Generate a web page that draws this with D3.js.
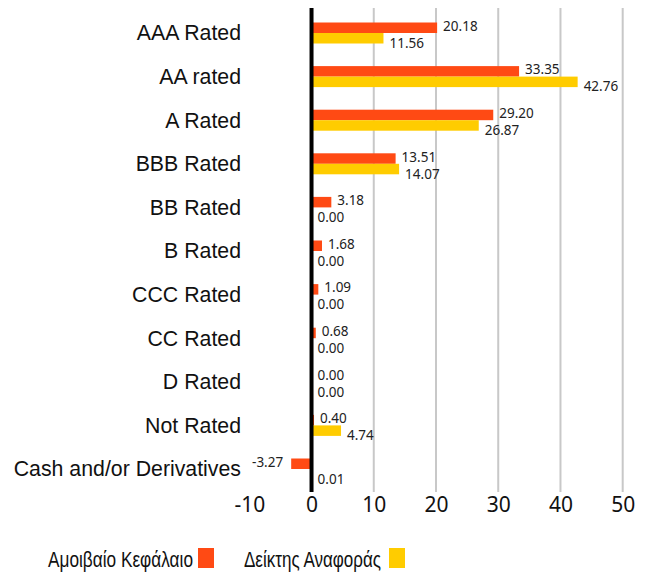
<!DOCTYPE html>
<html><head><meta charset="utf-8">
<script src="https://cdn.jsdelivr.net/npm/d3@7"></script>
<style>body{margin:0;background:#fff}svg{display:block}</style>
</head><body><svg id="c" width="651" height="574"></svg>
<script>
const categories = ["AAA Rated","AA rated","A Rated","BBB Rated","BB Rated","B Rated","CCC Rated","CC Rated","D Rated","Not Rated","Cash and/or Derivatives"];
const fundValues = [20.18,33.35,29.20,13.51,3.18,1.68,1.09,0.68,0.00,0.40,-3.27];
const benchValues = [11.56,42.76,26.87,14.07,0.00,0.00,0.00,0.00,0.00,4.74,0.01];
const xTicks = [-10,0,10,20,30,40,50];
const seriesNames = ["Αμοιβαίο Κεφάλαιο","Δείκτης Αναφοράς"];
const colors = ["#FF4A14","#FFCC00"];

const svg = d3.select("#c");
const x = d3.scaleLinear().domain([-10,50]).range([249.3,622.7]);
const y = d3.scaleBand().domain(categories).range([11.2,490.8]);
const barH = 10.5;
const fmt = v => d3.format(".2f")(v).replace("\u2212","-");

// grid
svg.append("g").selectAll("line").data(xTicks.filter(d=>d>0)).join("line")
  .attr("x1",d=>x(d)).attr("x2",d=>x(d)).attr("y1",8).attr("y2",492)
  .attr("stroke","#c8c8c8").attr("stroke-width",2);

const rows = svg.append("g").selectAll("g").data(categories).join("g")
  .attr("transform",d=>`translate(0,${y(d)+y.bandwidth()/2})`);

rows.append("rect")
  .attr("x",(d,i)=>x(Math.min(0,fundValues[i])))
  .attr("width",(d,i)=>Math.abs(x(fundValues[i])-x(0)))
  .attr("y",-barH).attr("height",barH).attr("fill",colors[0]);
rows.append("rect")
  .attr("x",(d,i)=>x(Math.min(0,benchValues[i])))
  .attr("width",(d,i)=>Math.abs(x(benchValues[i])-x(0)))
  .attr("y",0).attr("height",barH).attr("fill",colors[1]);

const lblFont = "'Noto Sans', sans-serif";
rows.append("text")
  .attr("x",(d,i)=>fundValues[i]<0 ? x(fundValues[i])-8 : x(fundValues[i])+6)
  .attr("text-anchor",(d,i)=>fundValues[i]<0?"end":"start")
  .attr("y",-7).attr("dy","0.35em")
  .style("font-family",lblFont).style("font-size","13.5px").attr("fill","#222")
  .text((d,i)=>fmt(fundValues[i]));
rows.append("text")
  .attr("x",(d,i)=>Math.max(x(benchValues[i]),x(0))+6)
  .attr("y",10).attr("dy","0.35em")
  .style("font-family",lblFont).style("font-size","13.5px").attr("fill","#222")
  .text((d,i)=>fmt(benchValues[i]));

// category labels
svg.append("g").selectAll("text").data(categories).join("text")
  .attr("x",241).attr("y",d=>y(d)+y.bandwidth()/2).attr("dy","0.35em")
  .attr("text-anchor","end")
  .style("font-family","'Liberation Sans', Arial, sans-serif").style("font-size","21.3px").attr("fill","#111")
  .text(d=>d);

// zero line
svg.append("line").attr("x1",x(0)).attr("x2",x(0)).attr("y1",8).attr("y2",492)
  .attr("stroke","#000").attr("stroke-width",4);

// x axis
const ax = svg.append("g").attr("transform","translate(0,492)")
  .call(d3.axisBottom(x).tickValues(xTicks).tickSize(0).tickPadding(5).tickFormat(d=>String(d)));
ax.select(".domain").remove();
ax.selectAll("text").style("font-family",lblFont).style("font-size","21px").attr("fill","#111");

// legend
const leg = [{t:seriesNames[0],tx:48,w:145,sx:198,c:colors[0]},{t:seriesNames[1],tx:244,w:137,sx:389,c:colors[1]}];
const lg = svg.append("g").selectAll("g").data(leg).join("g");
lg.append("text").attr("x",d=>d.tx).attr("y",567)
  .attr("textLength",d=>d.w).attr("lengthAdjust","spacingAndGlyphs")
  .style("font-family","'Liberation Sans', Arial, sans-serif").style("font-size","22px").attr("fill","#111")
  .text(d=>d.t);
lg.append("rect").attr("x",d=>d.sx).attr("y",548).attr("width",16).attr("height",20).attr("fill",d=>d.c);
</script></body></html>
